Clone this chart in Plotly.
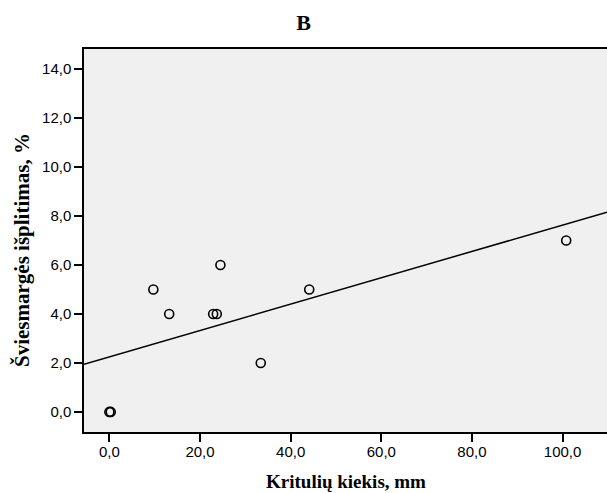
import plotly.graph_objects as go

# Data
rain_mm = [0.0, 0.3, 9.7, 13.2, 22.9, 23.7, 24.5, 33.4, 44.1, 100.8]
spread_pct = [0.0, 0.0, 5.0, 4.0, 4.0, 4.0, 6.0, 2.0, 5.0, 7.0]

# Fitted line (as drawn in the reference)
fit_intercept = 2.25
fit_slope = 0.0538

x_range = [-5.6, 109.8]
y_range = [-0.82, 14.82]

x_ticks = [0, 20, 40, 60, 80, 100]
x_ticktext = ["0,0", "20,0", "40,0", "60,0", "80,0", "100,0"]
y_ticks = [0, 2, 4, 6, 8, 10, 12, 14]
y_ticktext = ["0,0", "2,0", "4,0", "6,0", "8,0", "10,0", "12,0", "14,0"]

fit_x = x_range
fit_y = [fit_intercept + fit_slope * v for v in fit_x]

fig = go.Figure()
fig.add_trace(go.Scatter(x=fit_x, y=fit_y, mode="lines",
                         line=dict(color="black", width=1.5),
                         hoverinfo="skip", showlegend=False))
fig.add_trace(go.Scatter(x=rain_mm, y=spread_pct, mode="markers",
                         marker=dict(symbol="circle-open", size=9,
                                     color="black", line=dict(width=1.6)),
                         showlegend=False))

sans = "Liberation Sans, Arial, sans-serif"
serif = "Liberation Serif, Times New Roman, serif"

fig.update_layout(
    width=607, height=493,
    margin=dict(l=84, r=0, t=49, b=61),
    paper_bgcolor="white", plot_bgcolor="#F0F0F0",
    title=dict(text="<b>B</b>", font=dict(family=serif, size=22, color="black"),
               xref="container", x=0.5, xanchor="center",
               yref="container", y=1 - 22 / 493, yanchor="middle"),
    xaxis=dict(range=x_range, tickvals=x_ticks, ticktext=x_ticktext,
               showgrid=False, zeroline=False, showline=True, mirror=True,
               linecolor="black", linewidth=1.5, ticks="outside", ticklen=8,
               tickwidth=1.5, tickcolor="black", ticklabelstandoff=-3,
               tickfont=dict(family=sans, size=15, color="black")),
    yaxis=dict(range=y_range, tickvals=y_ticks, ticktext=y_ticktext,
               showgrid=False, zeroline=False, showline=True, mirror=False,
               linecolor="black", linewidth=1.5, ticks="outside", ticklen=8,
               tickwidth=1.5, tickcolor="black", ticklabelstandoff=0,
               tickfont=dict(family=sans, size=15, color="black")),
    annotations=[
        dict(text="<b>Kritulių kiekis, mm</b>", xref="paper", yref="paper",
             x=0.5, y=-(481 - 432) / 383, xanchor="center", yanchor="middle",
             showarrow=False, font=dict(family=serif, size=19, color="black")),
        dict(text="<b>Šviesmargės išplitimas, %</b>", xref="paper", yref="paper",
             x=-(84 - 22) / 523, y=(432 - 250) / 383, xanchor="center", yanchor="middle",
             textangle=-90, showarrow=False,
             font=dict(family=serif, size=21, color="black")),
    ],
)

fig.write_html("out.html", config={"displayModeBar": False},
               post_script="document.body.style.margin='0px';")
